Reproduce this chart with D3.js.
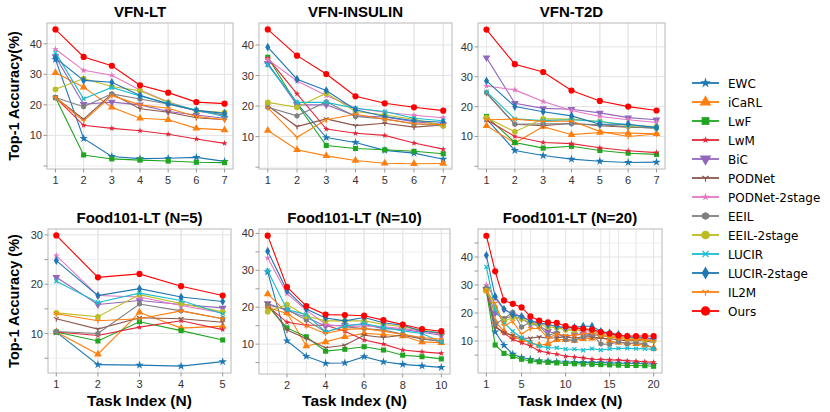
<!DOCTYPE html>
<html>
<head>
<meta charset="utf-8">
<script src="https://cdn.jsdelivr.net/npm/d3@7"></script>
<style>
  body { margin: 0; background: #fff; }
  svg { display: block; }
</style>
</head>
<body>
<div id="chart"></div>
<script>
// methods in legend order
var methods = ["EWC", "iCaRL", "LwF", "LwM", "BiC", "PODNet", "PODNet-2stage",
  "EEIL", "EEIL-2stage", "LUCIR", "LUCIR-2stage", "IL2M", "Ours"];

// accuracy per method (same order as methods)
var vfnLT = [
  [34.9, 9.0, 3.1, 2.4, 2.5, 2.8, 1.5],
  [30.5, 25.8, 19.2, 15.6, 15.1, 12.3, 11.8],
  [22.4, 3.6, 2.3, 1.9, 1.6, 1.2, 1.1],
  [22.4, 13.3, 12.3, 11.5, 10.4, 8.8, 7.4],
  [35.8, 20.2, 20.9, 20.0, 17.8, 16.7, 15.6],
  [22.4, 15.3, 23.6, 18.7, 17.6, 15.8, 15.1],
  [38.2, 31.3, 29.7, 24.9, 21.0, 18.0, 16.5],
  [22.4, 19.4, 23.6, 21.9, 20.3, 18.1, 16.7],
  [25.1, 28.6, 26.0, 24.6, 20.8, 18.1, 17.5],
  [37.1, 22.0, 25.7, 22.9, 20.5, 18.3, 16.2],
  [35.4, 28.0, 27.4, 23.1, 20.3, 18.2, 17.2],
  [22.4, 14.7, 23.0, 20.0, 18.9, 16.2, 15.1],
  [44.7, 35.7, 32.8, 26.4, 24.0, 20.9, 20.4]
];
var vfnInsulin = [
  [33.8, 20.9, 9.7, 8.1, 5.5, 4.6, 2.6],
  [12.0, 5.7, 3.7, 2.2, 1.3, 1.1, 1.2],
  [36.0, 20.6, 7.1, 6.1, 5.7, 5.2, 4.4],
  [35.7, 24.0, 12.5, 11.1, 10.4, 7.9, 5.9],
  [34.0, 20.4, 20.4, 16.8, 16.4, 14.9, 14.0],
  [20.1, 13.3, 15.8, 13.6, 14.4, 13.1, 13.8],
  [35.3, 28.2, 23.5, 19.3, 18.0, 17.0, 16.2],
  [19.6, 16.8, 21.4, 16.6, 15.8, 14.2, 13.5],
  [21.2, 19.6, 24.2, 18.2, 17.1, 15.7, 13.6],
  [33.5, 21.2, 21.2, 19.3, 18.2, 16.0, 15.2],
  [39.3, 28.8, 25.1, 18.8, 16.6, 15.2, 14.7],
  [19.4, 9.8, 15.5, 17.3, 15.7, 14.2, 13.9],
  [45.1, 36.5, 30.5, 23.2, 20.9, 19.6, 18.5]
];
var vfnT2D = [
  [15.9, 5.3, 3.6, 2.4, 1.7, 1.3, 1.4],
  [13.6, 7.8, 13.3, 10.6, 11.3, 11.1, 10.9],
  [16.7, 8.0, 6.1, 6.7, 5.3, 4.4, 4.0],
  [15.6, 10.0, 8.0, 7.6, 6.2, 5.2, 4.6],
  [36.4, 21.1, 19.4, 19.1, 17.9, 16.3, 15.6],
  [24.4, 14.1, 13.6, 14.4, 13.6, 13.1, 12.9],
  [26.9, 25.6, 21.7, 18.7, 16.7, 15.6, 14.7],
  [24.7, 14.1, 14.2, 14.2, 13.9, 13.3, 12.7],
  [16.3, 11.6, 15.9, 15.8, 15.0, 13.6, 13.3],
  [25.0, 15.9, 15.3, 15.6, 15.0, 13.9, 13.0],
  [28.6, 20.0, 18.3, 16.9, 14.1, 14.1, 13.0],
  [15.6, 15.8, 15.0, 15.2, 11.7, 10.0, 10.8],
  [45.8, 34.2, 31.6, 25.4, 21.9, 20.0, 18.7]
];
var food5 = [
  [10.3, 3.7, 3.6, 3.4, 4.3],
  [10.3, 5.8, 14.3, 11.1, 11.5],
  [10.3, 8.5, 12.4, 10.6, 8.7],
  [10.3, 9.6, 11.3, 12.6, 10.8],
  [21.4, 15.9, 16.7, 15.9, 15.2],
  [13.0, 10.9, 13.2, 13.0, 12.3],
  [25.8, 17.7, 17.4, 15.7, 14.2],
  [10.4, 10.0, 16.0, 14.6, 13.0],
  [14.2, 13.4, 17.9, 16.1, 14.4],
  [20.6, 16.3, 18.2, 16.7, 14.0],
  [24.8, 17.7, 19.1, 17.4, 16.5],
  [14.0, 12.6, 13.0, 14.6, 13.0],
  [29.9, 21.4, 22.1, 19.6, 17.7]
];
var food10 = [
  [29.6, 10.9, 6.7, 4.8, 4.9, 6.6, 5.2, 4.5, 4.1, 3.7],
  [23.6, 18.5, 9.5, 10.6, 12.0, 12.9, 12.6, 12.2, 10.6, 10.4],
  [20.3, 14.4, 12.0, 8.1, 8.6, 9.3, 8.4, 7.0, 6.6, 6.0],
  [20.3, 15.9, 15.1, 15.1, 13.5, 11.1, 10.0, 8.4, 7.9, 7.5],
  [21.0, 19.2, 17.2, 14.9, 15.1, 15.3, 14.2, 14.0, 13.2, 12.4],
  [21.0, 13.8, 11.5, 9.0, 9.7, 12.4, 11.8, 12.4, 11.4, 10.8],
  [33.4, 23.7, 19.2, 15.4, 14.7, 14.9, 14.7, 14.2, 13.6, 12.7],
  [20.6, 19.4, 16.5, 13.3, 14.7, 14.2, 13.8, 12.7, 11.5, 10.7],
  [18.8, 20.7, 17.6, 16.3, 16.3, 16.3, 15.4, 14.7, 13.8, 13.0],
  [29.9, 19.4, 18.0, 13.3, 14.9, 15.6, 14.5, 13.6, 12.9, 10.6],
  [35.2, 24.5, 19.5, 17.1, 16.3, 17.2, 15.8, 15.1, 13.5, 13.1],
  [19.9, 18.3, 15.0, 12.9, 14.0, 14.2, 13.5, 12.6, 11.8, 11.3],
  [39.4, 25.5, 20.3, 18.0, 17.9, 17.7, 16.5, 15.3, 14.1, 13.5]
];
var food20 = [
  [28.5, 13.3, 8.5, 5.3, 4.1, 3.5, 2.9, 2.8, 2.6, 2.5, 2.4, 2.4, 2.3, 2.3, 2.2, 2.1, 2.1, 2.0, 1.9, 1.7],
  [28.5, 17.0, 13.5, 11.5, 10.5, 9.5, 8.5, 9.0, 10.5, 10.5, 10.2, 10.8, 11.0, 11.5, 10.0, 9.5, 9.3, 9.0, 8.5, 7.5],
  [28.0, 8.6, 5.6, 4.5, 3.5, 2.9, 2.6, 2.4, 2.2, 2.0, 1.9, 1.8, 1.7, 1.6, 1.5, 1.4, 1.3, 1.3, 1.2, 1.0],
  [28.0, 15.3, 12.9, 10.6, 9.4, 8.2, 6.5, 5.8, 5.3, 4.6, 4.3, 4.0, 3.5, 3.4, 3.3, 3.2, 3.0, 2.8, 2.6, 2.4],
  [28.5, 20.0, 18.0, 19.0, 18.0, 16.0, 15.5, 13.5, 12.5, 11.5, 12.3, 12.6, 12.2, 12.0, 11.5, 11.5, 11.0, 10.8, 10.6, 10.5],
  [29.0, 15.0, 13.0, 12.0, 11.0, 11.0, 11.5, 11.0, 11.2, 11.5, 11.0, 11.5, 11.5, 11.0, 10.8, 10.5, 10.0, 10.2, 10.0, 9.5],
  [30.0, 25.3, 21.2, 20.0, 18.8, 17.4, 16.5, 15.8, 15.2, 14.5, 14.0, 13.8, 13.5, 12.8, 12.2, 11.8, 11.3, 11.0, 10.8, 10.5],
  [29.0, 16.0, 18.0, 20.3, 15.0, 16.8, 15.5, 12.0, 13.0, 10.5, 10.3, 11.5, 12.5, 9.0, 8.8, 9.8, 9.0, 9.5, 9.0, 7.3],
  [28.0, 22.0, 17.0, 18.5, 18.0, 16.5, 16.0, 15.0, 14.8, 14.0, 13.8, 14.2, 13.8, 12.5, 11.8, 11.5, 11.0, 10.8, 10.5, 10.2],
  [36.5, 21.2, 16.5, 13.5, 11.2, 9.6, 8.2, 7.6, 7.6, 7.1, 7.1, 6.7, 7.3, 6.8, 7.2, 7.4, 7.4, 7.3, 7.2, 7.1],
  [40.6, 25.9, 21.4, 19.4, 18.8, 17.1, 16.5, 15.9, 15.3, 14.7, 14.9, 15.3, 15.3, 13.5, 12.9, 12.4, 11.6, 11.2, 11.2, 10.8],
  [28.0, 23.5, 15.5, 17.0, 12.5, 14.5, 14.5, 11.0, 12.5, 12.0, 12.0, 12.5, 13.0, 12.0, 11.5, 11.0, 10.5, 10.5, 10.5, 10.0],
  [47.6, 34.9, 24.5, 23.3, 22.0, 18.8, 17.3, 16.7, 16.5, 15.3, 14.7, 14.4, 14.1, 13.2, 12.7, 12.0, 11.8, 11.8, 11.8, 11.8]
];

// tick values / labels
var xTicks7 = [1, 2, 3, 4, 5, 6, 7];
var xTicks5 = [1, 2, 3, 4, 5];
var xTicks10 = [1, 2, 3, 4, 5, 6, 7, 8, 9, 10];
var xLabels10 = [2, 4, 6, 8, 10];
var xTicks20 = [2, 4, 6, 8, 10, 12, 14, 16, 18, 20];
var xLabels20 = [1, 5, 10, 15, 20];
var yTicksTop = [0, 10, 20, 30, 40];
var yLabels = [10, 20, 30, 40];
var yTicks5 = [5, 10, 15, 20, 25, 30];
var yTicks10 = [5, 10, 15, 20, 25, 30, 35, 40];
var yTicks20 = [5, 10, 15, 20, 25, 30, 35, 40, 45];

// styles
var colors = ["#1f77b4", "#ff7f0e", "#1fa51f", "#e3263a", "#9467bd", "#8c564b", "#e377c2",
  "#7f7f7f", "#bcbd22", "#17becf", "#1f77b4", "#ff7f0e", "#ff0000"];
var markers = ["star", "tri", "square", "star", "triDown", "y", "star",
  "hex", "circle", "x", "diamond", "y", "circle"];
var markerSize = [22, 26, 26, 12, 26, 22, 14, 22, 26, 20, 22, 22, 30];
var legendSize = [34, 60, 60, 16, 60, 40, 20, 44, 60, 44, 50, 40, 70];

var panels = [
  {title: "VFN-LT", data: vfnLT, box: [47, 23, 186, 146], xd: [0.7, 7.3], yd: [-1.0, 46.8],
    xt: xTicks7, xl: xTicks7, yt: yTicksTop, yl: yLabels, ylab: "Top-1 Accuracy(%)"},
  {title: "VFN-INSULIN", data: vfnInsulin, box: [259, 23, 193, 146], xd: [0.7, 7.3], yd: [-0.6, 47.2],
    xt: xTicks7, xl: xTicks7, yt: yTicksTop, yl: yLabels},
  {title: "VFN-T2D", data: vfnT2D, box: [478, 23, 187, 146], xd: [0.7, 7.3], yd: [-0.9, 48.0],
    xt: xTicks7, xl: xTicks7, yt: yTicksTop, yl: yLabels},
  {title: "Food101-LT (N=5)", data: food5, box: [48, 229, 183, 144], xd: [0.8, 5.2], yd: [2.0, 31.2],
    xt: xTicks5, xl: xTicks5, yt: yTicks5, yl: [10, 20, 30], ylab: "Top-1 Accuracy (%)", xlab: true},
  {title: "Food101-LT (N=10)", data: food10, box: [259, 229, 191, 145], xd: [0.55, 10.45], yd: [1.9, 41.2],
    xt: xTicks10, xl: xLabels10, yt: yTicks10, yl: yLabels, xlab: true},
  {title: "Food101-LT (N=20)", data: food20, box: [478, 229, 184, 144], xd: [0.05, 20.95], yd: [-1.4, 50.0],
    xt: xTicks20, xl: xLabels20, yt: yTicks20, yl: yLabels, xlab: true}
];

var sans = "'Liberation Sans', Arial, sans-serif";

// custom marker shapes
var hexagon = {draw: function(ctx, size) {
  var r = Math.sqrt(size / 2.6);
  for (var i = 0; i < 6; i++) {
    var a = Math.PI / 3 * i - Math.PI / 2;
    if (i === 0) ctx.moveTo(r * Math.cos(a), r * Math.sin(a));
    else ctx.lineTo(r * Math.cos(a), r * Math.sin(a));
  }
  ctx.closePath();
}};
var triDownLines = {draw: function(ctx, size) {
  var r = Math.sqrt(size) * 0.6;
  ctx.moveTo(0, 0); ctx.lineTo(0, r);
  ctx.moveTo(0, 0); ctx.lineTo(-r * 0.866, -r * 0.5);
  ctx.moveTo(0, 0); ctx.lineTo(r * 0.866, -r * 0.5);
}};
var cross = {draw: function(ctx, size) {
  var r = Math.sqrt(size) * 0.45;
  ctx.moveTo(-r, -r); ctx.lineTo(r, r);
  ctx.moveTo(-r, r); ctx.lineTo(r, -r);
}};

function drawMarker(g, kind, size, color, x, y) {
  var type = {star: d3.symbolStar, tri: d3.symbolTriangle, triDown: d3.symbolTriangle,
    square: d3.symbolSquare, circle: d3.symbolCircle, diamond: d3.symbolDiamond,
    hex: hexagon, y: triDownLines, x: cross}[kind];
  var rot = kind === "triDown" ? 180 : 0;
  var p = g.append("path")
    .attr("d", d3.symbol().type(type).size(size)())
    .attr("transform", "translate(" + x + "," + y + ") rotate(" + rot + ")");
  if (kind === "y" || kind === "x") {
    p.attr("fill", "none").attr("stroke", color).attr("stroke-width", 1.2);
  } else {
    p.attr("fill", color);
  }
}

var svg = d3.select("#chart").append("svg")
  .attr("width", 830)
  .attr("height", 412);

panels.forEach(function(pan) {
  var L = pan.box[0], T = pan.box[1], W = pan.box[2], H = pan.box[3];
  var x = d3.scaleLinear().domain(pan.xd).range([L, L + W]);
  var y = d3.scaleLinear().domain(pan.yd).range([T + H, T]);
  var g = svg.append("g").style("font-family", sans);

  // grid
  g.selectAll(".gx").data(pan.xt.concat(pan.xl)).enter().append("line")
    .attr("x1", function(d) { return x(d); }).attr("x2", function(d) { return x(d); })
    .attr("y1", T).attr("y2", T + H)
    .attr("stroke", "#e6e6e6").attr("stroke-width", 1);
  g.selectAll(".gy").data(pan.yt).enter().append("line")
    .attr("y1", function(d) { return y(d); }).attr("y2", function(d) { return y(d); })
    .attr("x1", L).attr("x2", L + W)
    .attr("stroke", function(d) { return pan.yl.indexOf(d) >= 0 ? "#e3e3e3" : "#efefef"; })
    .attr("stroke-width", 1);

  // frame
  g.append("rect").attr("x", L).attr("y", T).attr("width", W).attr("height", H)
    .attr("fill", "none").attr("stroke", "#b8b8b8").attr("stroke-width", 1);

  // ticks
  g.selectAll(".tx").data(pan.xl).enter().append("line")
    .attr("x1", function(d) { return x(d); }).attr("x2", function(d) { return x(d); })
    .attr("y1", T + H).attr("y2", T + H + 3.5).attr("stroke", "#999");
  g.selectAll(".ty").data(pan.yt).enter().append("line")
    .attr("y1", function(d) { return y(d); }).attr("y2", function(d) { return y(d); })
    .attr("x1", L - 3.5).attr("x2", L).attr("stroke", "#999");

  g.selectAll(".lx").data(pan.xl).enter().append("text")
    .attr("x", function(d) { return x(d); }).attr("y", T + H + 15)
    .attr("text-anchor", "middle").attr("font-size", 11).attr("fill", "#333")
    .text(function(d) { return d; });
  g.selectAll(".ly").data(pan.yl).enter().append("text")
    .attr("x", L - 5).attr("y", function(d) { return y(d) + 4; })
    .attr("text-anchor", "end").attr("font-size", 11).attr("fill", "#333")
    .text(function(d) { return d; });

  // title
  g.append("text").attr("x", L + W / 2).attr("y", T - 6)
    .attr("text-anchor", "middle").attr("font-size", 15).attr("font-weight", "bold")
    .text(pan.title);

  if (pan.xlab) {
    g.append("text").attr("x", L + W / 2).attr("y", 406)
      .attr("text-anchor", "middle").attr("font-size", 15.5).attr("font-weight", "bold")
      .text("Task Index (N)");
  }
  if (pan.ylab) {
    g.append("text")
      .attr("transform", "translate(19," + (T + H / 2) + ") rotate(-90)")
      .attr("text-anchor", "middle").attr("font-size", 14.5).attr("font-weight", "bold")
      .text(pan.ylab);
  }

  // series
  var line = d3.line()
    .x(function(d, i) { return x(i + 1); })
    .y(function(d) { return y(d); });
  var lines = g.append("g");
  pan.data.forEach(function(vals, m) {
    lines.append("path").attr("d", line(vals))
      .attr("fill", "none").attr("stroke", colors[m]).attr("stroke-width", 1.1);
    vals.forEach(function(v, i) {
      drawMarker(lines, markers[m], markerSize[m], colors[m], x(i + 1), y(v));
    });
  });
});

// legend
var leg = svg.append("g").attr("transform", "translate(692,83)");
methods.forEach(function(name, m) {
  var row = leg.append("g").attr("transform", "translate(0," + (m * 19) + ")");
  row.append("line").attr("x1", 0).attr("x2", 27).attr("y1", 0).attr("y2", 0)
    .attr("stroke", colors[m]).attr("stroke-width", 1.8);
  drawMarker(row, markers[m], legendSize[m], colors[m], 13.5, 0);
  row.append("text").attr("x", 36).attr("y", 4.5)
    .style("font-family", "'DejaVu Sans', sans-serif").attr("font-size", 12)
    .text(name);
});
</script>
</body>
</html>
